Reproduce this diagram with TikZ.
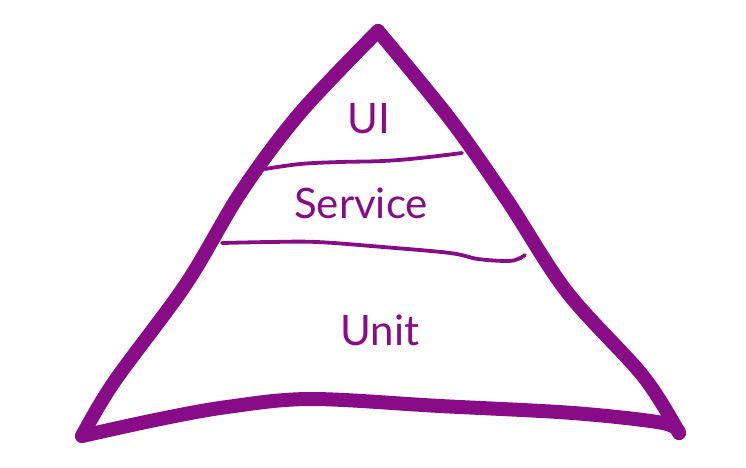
\documentclass[tikz,border=0pt]{standalone}
\usepackage{fontspec}
\setmainfont{Lato}
\definecolor{pyr}{RGB}{136,12,136}
\begin{document}
\begin{tikzpicture}
  [x=1pt,y=-1pt,
   every node/.style={text=pyr,inner sep=0pt,font=\fontsize{42}{44}\selectfont},
   side/.style={draw=pyr,line width=14pt,line cap=round,line join=round},
   layer/.style={draw=pyr,line width=3.8pt,line cap=round,line join=round}]
  \useasboundingbox (0,0) rectangle (746,467);
  % outline of the pyramid
  \coordinate (top) at (378,31);
  \coordinate (bl) at (82,436);
  \coordinate (br) at (679,433);
  \draw[side] plot[smooth,tension=0.55] coordinates
    {(top) (300,113) (241,192) (186,284) (114,382) (bl)};
  \draw[side] plot[smooth,tension=0.55] coordinates
    {(bl) (160,419) (227,407) (310,399) (440,406) (573,413) (663,423) (br)};
  \draw[side] plot[smooth,tension=0.55] coordinates
    {(br) (643,376) (567,292) (507,200) (450,119) (top)};
  % layer borders
  \draw[layer] plot[smooth,tension=0.6] coordinates
    {(265,169) (300,164) (340,162) (383,161) (420,158) (462,153)};
  \draw[layer] plot[smooth,tension=0.6] coordinates
    {(222,243) (270,242) (317,242) (383,247) (450,253) (478,259) (507,261) (518,259) (525,255)};
  % labels
  \node (ui) at (369,119) {UI};
  \node (service) at (361,203) {Service};
  \node (unit) at (380,330) {Unit};
\end{tikzpicture}
\end{document}
